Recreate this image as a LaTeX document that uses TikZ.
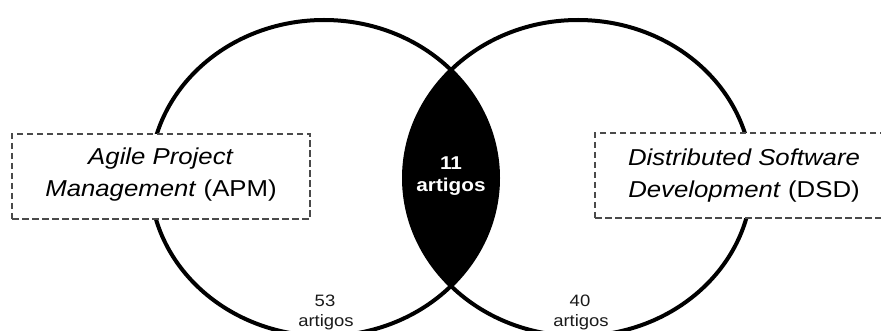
\documentclass[tikz,border=0pt]{standalone}
\usepackage{fontspec}
\setmainfont[FakeStretch=1.12]{Liberation Sans}
\definecolor{boxgray}{HTML}{4A4A4A}
\definecolor{countgray}{HTML}{1A1A1A}
\begin{document}
\begin{tikzpicture}[x=1pt,y=-1pt,
  setcircle/.style={line width=4pt, draw=black},
  setshape/.style={x radius=174pt, y radius=158pt},
  dashbox/.style={draw=boxgray, dash pattern=on 6.5pt off 3.5pt, line width=1.3pt, fill=white,
    minimum width=298pt, minimum height=85pt, inner sep=0pt, outer sep=0pt},
  boxtext/.style={font=\fontsize{23}{28}\selectfont, anchor=base, inner sep=0pt},
  lenstext/.style={font=\fontsize{18.5}{22}\selectfont\bfseries, text=white, anchor=base, inner sep=0pt},
  counttext/.style={font=\fontsize{16.5}{20}\selectfont, text=countgray, anchor=base, inner sep=0pt}
]
\useasboundingbox (0,0) rectangle (881,331);
\clip (0,0) rectangle (881,331);
\fill[white] (0,0) rectangle (881,331);
\coordinate (apmc) at (324,178);
\coordinate (dsdc) at (578,178);
\begin{scope}
  \clip (apmc) ellipse [setshape];
  \fill[black] (dsdc) ellipse [setshape];
\end{scope}
\draw[setcircle] (apmc) ellipse [setshape];
\draw[setcircle] (dsdc) ellipse [setshape];
\node[dashbox] (apmbox) at (161,176.5) {};
\node[dashbox] (dsdbox) at (744,175.5) {};
\node[boxtext] (apm1) at (161,164.5) {\textit{Agile Project}};
\node[boxtext] (apm2) at (161,197) {\textit{Management} (APM)};
\node[boxtext] (dsd1) at (744,166) {\textit{Distributed Software}};
\node[boxtext] (dsd2) at (744,198) {\textit{Development} (DSD)};
\node[lenstext] (both1) at (451,170) {11};
\node[lenstext] (both2) at (451,191.5) {artigos};
\node[counttext] (apmn1) at (325,306.5) {53};
\node[counttext] (apmn2) at (326,326) {artigos};
\node[counttext] (dsdn1) at (580,306.5) {40};
\node[counttext] (dsdn2) at (581,326) {artigos};
\end{tikzpicture}
\end{document}
